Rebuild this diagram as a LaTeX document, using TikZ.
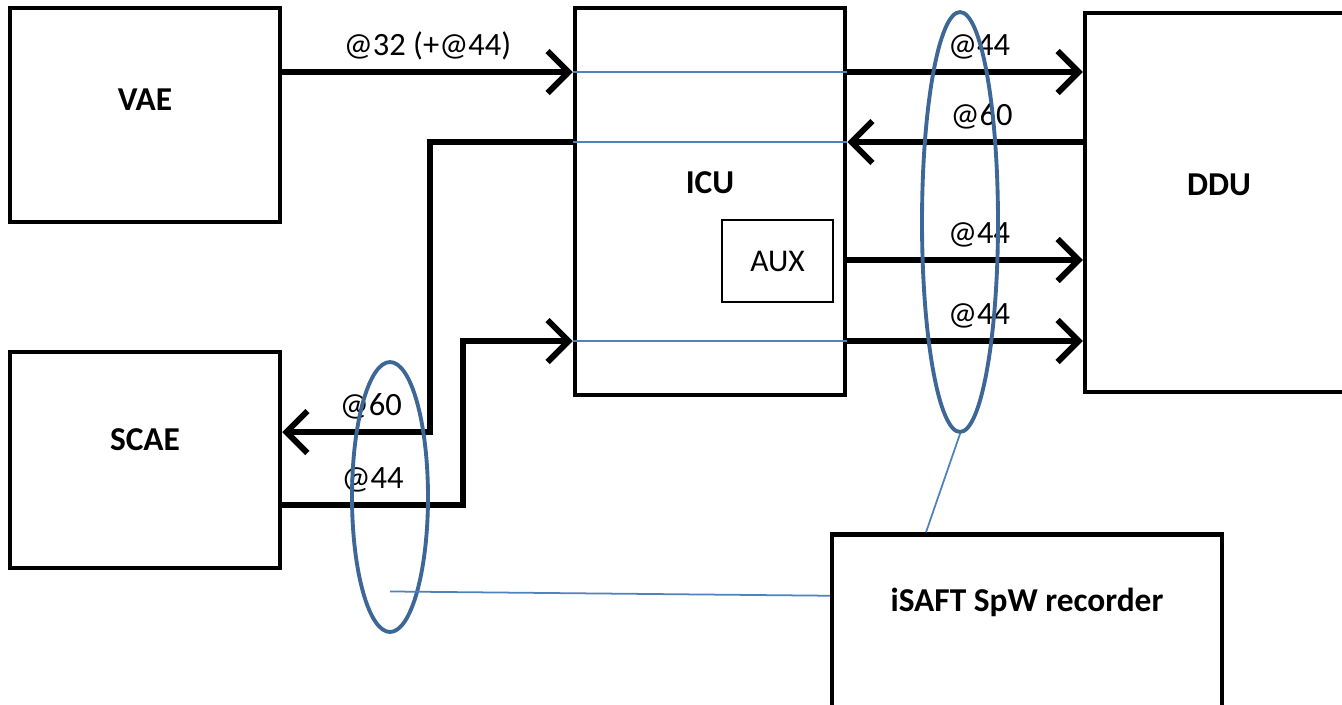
\documentclass[tikz,border=0pt]{standalone}
\usepackage{fontspec}
\setmainfont{Carlito}
\usetikzlibrary{positioning, arrows.meta, shapes.geometric, calc}
\definecolor{wordblue}{HTML}{4F81BD}
\definecolor{ringblue}{HTML}{3D6797}

\begin{document}
\begin{tikzpicture}[x=0.02cm, y=-0.02cm,
    unit/.style={draw, line width=2.6pt, minimum width=5.4cm, inner sep=0pt},
    tag/.style={font=\fontsize{19}{22}\selectfont\bfseries},
    lab/.style={font=\fontsize{18.5}{22}\selectfont},
    bus/.style={line width=3.4pt, -{Straight Barb[length=4.2mm, width=8.4mm]}},
    tap/.style={wordblue, line width=1pt},
    ring/.style={draw=ringblue, line width=2.2pt, ellipse, inner sep=0pt, minimum width=1.52cm}
]

\useasboundingbox (0,0) rectangle (1342,704);
\clip (0,0) rectangle (1342,704);

% row heights of the links
\coordinate (r1) at (0,72);
\coordinate (r2) at (0,142);
\coordinate (r3) at (0,260);
\coordinate (r4) at (0,341);
\coordinate (r5) at (0,432);
\coordinate (r6) at (0,505);
\coordinate (jog1) at (430,0);
\coordinate (jog2) at (463,0);

% Units
\node[unit, minimum height=4.28cm, label={[tag, yshift=0.3cm]center:VAE}] (vae) at (145,115) {};
\node[unit, minimum height=4.32cm, label={[tag, yshift=0.4cm]center:SCAE}] (scae) at (145,460) {};
\node[unit, minimum height=7.74cm, label={[tag, yshift=0.37cm]center:ICU}] (icu) at (710,201.5) {};
\node[unit, minimum width=8.6cm, minimum height=7.58cm, label={[tag, xshift=-1.62cm, yshift=0.35cm]center:DDU}] (ddu) at (1300,202.5) {};
\node[draw, line width=1pt, minimum width=2.22cm, minimum height=1.64cm, font=\fontsize{18}{21}\selectfont] (aux) at (777.5,261) {AUX};

% Recorder
\node[unit, minimum width=7.8cm, minimum height=3.7cm, label={[tag, yshift=0.5cm]center:iSAFT SpW recorder}] (isaft) at (1027,627) {};

% Links through the ICU
\draw[tap] (icu.west |- r1) -- (icu.east |- r1);
\draw[tap] (icu.west |- r2) -- (icu.east |- r2);
\draw[tap] (icu.west |- r4) -- (icu.east |- r4);

% SpW links
\draw[bus] (vae.east |- r1) -- node[lab, above=2pt] {@32 (+@44)} (icu.west |- r1);
\draw[bus] (icu.east |- r1) -- node[lab, above=2pt, pos=0.56] {@44} (ddu.west |- r1);
\draw[bus] (ddu.west |- r2) -- node[lab, above=2pt, pos=0.43] {@60} (icu.east |- r2);
\draw[bus] (icu.east |- r3) -- node[lab, above=2pt, pos=0.56] {@44} (ddu.west |- r3);
\draw[bus] (icu.east |- r4) -- node[lab, above=2pt, pos=0.56] {@44} (ddu.west |- r4);
\draw[bus] (icu.west |- r2) -| (jog1 |- r5) -- node[lab, above=2pt, pos=0.4] {@60} (scae.east |- r5);
\draw[bus] (scae.east |- r6) -- node[lab, above=2pt] {@44} (jog2 |- r6) -- (jog2 |- r4) -- (icu.west |- r4);

% Probes
\node[ring, minimum height=8.4cm] (ringR) at (960,222) {};
\node[ring, minimum height=5.4cm] (ringL) at (390,497) {};
\draw[tap] ($(ringL.center)!0.69!(ringL.south)$) -- ($(isaft.north west)!0.335!(isaft.south west)$);
\draw[tap] (ringR.south) -- ($(isaft.north west)!0.244!(isaft.north east)$);

\end{tikzpicture}
\end{document}
